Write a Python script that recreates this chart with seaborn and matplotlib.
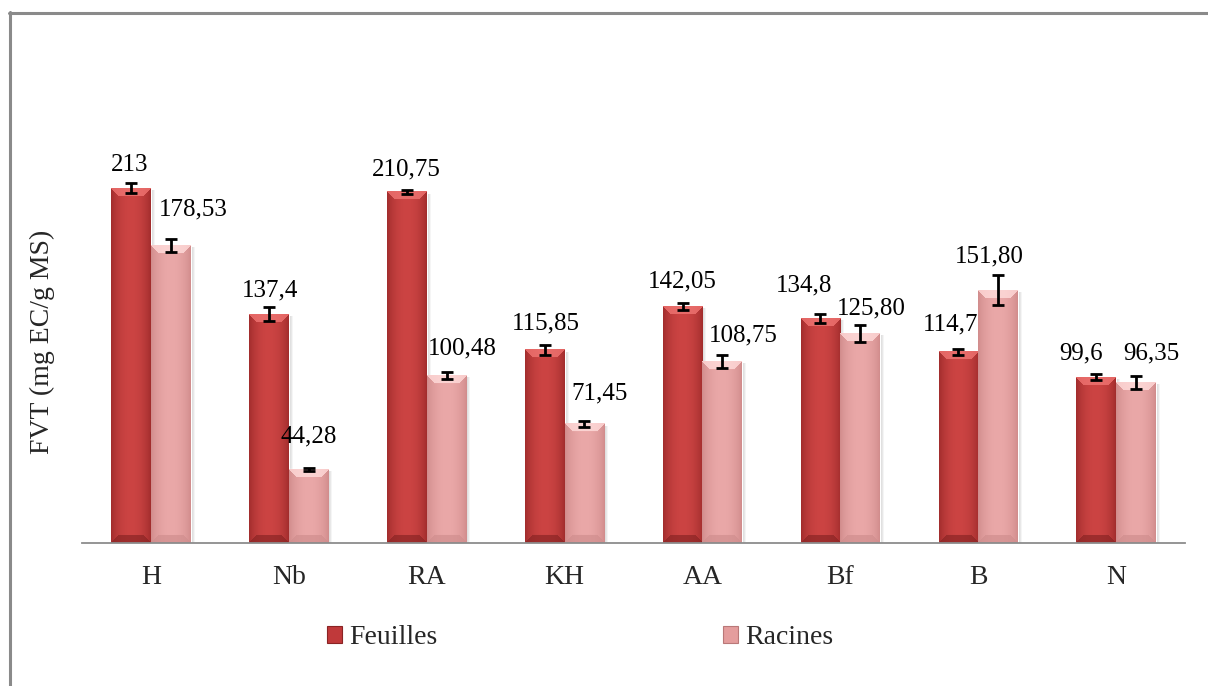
import numpy as np
import pandas as pd
import matplotlib
matplotlib.use("Agg")
import matplotlib.pyplot as plt
import seaborn as sns
from matplotlib.patches import Patch
from matplotlib.lines import Line2D
from matplotlib.colors import to_rgb

# ---- data -------------------------------------------------------------
categories = ["H", "Nb", "RA", "KH", "AA", "Bf", "B", "N"]
feuilles = [213, 137.4, 210.75, 115.85, 142.05, 134.8, 114.7, 99.6]
racines = [178.53, 44.28, 100.48, 71.45, 108.75, 125.80, 151.80, 96.35]
feuilles_err = [3, 4, 1.2, 3, 2, 2.5, 2, 1.6]
racines_err = [4, 0.8, 2, 1.7, 4, 5, 9.2, 3.7]
feuilles_txt = ["213", "137,4", "210,75", "115,85", "142,05", "134,8", "114,7", "99,6"]
racines_txt = ["178,53", "44,28", "100,48", "71,45", "108,75", "125,80", "151,80", "96,35"]
series = ["Feuilles", "Racines"]

df = pd.DataFrame({
    "cat": categories * 2,
    "organ": [series[0]] * len(categories) + [series[1]] * len(categories),
    "fvt": feuilles + racines,
})

# ---- style ------------------------------------------------------------
sns.set_style("white")
plt.rcParams["font.family"] = ["Liberation Serif", "DejaVu Serif"]

red_main = "#c0393a"
pink_main = "#e49d9d"
shades = {
    series[0]: dict(light="#cc4443", dark="#9e2b2b", top="#e86c6a", bottom="#8a2424"),
    series[1]: dict(light="#eaa8a8", dark="#cf8a8a", top="#fbd3d2", bottom="#d08e8e"),
}

W_PX, H_PX = 1208, 686
fig = plt.figure(figsize=(W_PX / 100, H_PX / 100), dpi=100)
ax_left, ax_right, ax_bottom, ax_top = 82, 1185, 543, 126.5
ax = fig.add_axes([ax_left / W_PX, 1 - ax_bottom / H_PX,
                   (ax_right - ax_left) / W_PX, (ax_bottom - ax_top) / H_PX])

sns.barplot(data=df, x="cat", y="fvt", hue="organ", hue_order=series,
            palette=[red_main, pink_main], width=0.575, gap=0,
            saturation=1, errorbar=None, legend=False, ax=ax, zorder=2)

ax.set_xlim(-0.5, len(categories) - 0.5)
ax.set_ylim(0, 250)
fig.canvas.draw()


def bevel_image(w, h, sh):
    """Pixel image of a bevelled bar: lit centre, dark sides, light top facet."""
    light, dark = np.array(to_rgb(sh["light"])), np.array(to_rgb(sh["dark"]))
    top, bottom = np.array(to_rgb(sh["top"])), np.array(to_rgb(sh["bottom"]))
    xs = (np.arange(w) + 0.5) / w
    prof = np.sin(np.pi * xs) ** 0.7
    row = dark[None, :] + (light - dark)[None, :] * prof[:, None]
    img = np.repeat(row[None, :, :], h, axis=0)
    b = 8
    for i in range(min(b, h)):
        for j in range(w):
            if i <= j <= w - 1 - i:
                k = 0.75 + 0.25 * prof[j]
                img[i, j] = top * k + light * (1 - k)
                if h - 1 - i > b:
                    img[h - 1 - i, j] = bottom * 0.7 + img[h - 1 - i, j] * 0.3
    return np.clip(img, 0, 1)


for cont, organ in zip(ax.containers, series):
    for p in cont.patches:
        x0, w, h = p.get_x(), p.get_width(), p.get_height()
        (px0, py0) = ax.transData.transform((x0, 0))
        (px1, py1) = ax.transData.transform((x0 + w, h))
        wp, hp = max(int(round(px1 - px0)), 2), max(int(round(py1 - py0)), 2)
        img = bevel_image(wp, hp, shades[organ])
        ax.imshow(img, extent=[x0, x0 + w, 0, h], origin="upper",
                  aspect="auto", interpolation="bilinear", zorder=2.5)
        # soft drop shadow on the right side
        for s, a in zip(range(1, 5), [0.22, 0.15, 0.09, 0.04]):
            dxd = ax.transData.inverted().transform((px1 + s, 0))[0] - \
                ax.transData.inverted().transform((px1 + s - 1, 0))[0]
            ax.axvspan(x0 + w + dxd * (s - 1), x0 + w + dxd * s, ymin=0,
                       ymax=h / 250 - 0.004, color="#000000", alpha=a,
                       lw=0, zorder=1.5)

ax.set_xlim(-0.5, len(categories) - 0.5)
ax.set_ylim(0, 250)

# error bars from the bar centres
centers_f = [p.get_x() + p.get_width() / 2 for p in ax.containers[0].patches]
centers_r = [p.get_x() + p.get_width() / 2 for p in ax.containers[1].patches]
for xc, vals, errs in [(centers_f, feuilles, feuilles_err),
                       (centers_r, racines, racines_err)]:
    ax.errorbar(xc, vals, yerr=errs, fmt="none", ecolor="black",
                elinewidth=2.0, capsize=4.3, capthick=2.0, zorder=4)

# value labels (pixel nudges keep neighbouring labels apart)
nudge_f = [(-1, 26), (1, 27), (-1, 25), (1, 30), (0, 28), (-16, 36), (-8, 30), (-15, 27)]
nudge_r = [(23, 39), (0, 36), (16, 30), (15, 34), (21, 29), (11, 28), (-9, 37), (15, 32)]
for xc, vals, txts, nudges in [(centers_f, feuilles, feuilles_txt, nudge_f),
                               (centers_r, racines, racines_txt, nudge_r)]:
    for x, v, t, (dx, dy) in zip(xc, vals, txts, nudges):
        ax.annotate(t, xy=(x, v), xytext=(dx, dy - 9), textcoords="offset pixels",
                    ha="center", va="baseline", fontsize=18, color="black",
                    zorder=5)

# axes decoration
for side in ["top", "right", "left"]:
    ax.spines[side].set_visible(False)
ax.spines["bottom"].set_color("#8c8c8c")
ax.spines["bottom"].set_linewidth(1.3)
ax.set_yticks([])
ax.set_xticks(range(len(categories)))
ax.set_xticklabels(categories, fontsize=20)
ax.set_xticks(np.arange(-0.5, len(categories)), minor=True)
ax.tick_params(axis="x", which="major", length=0, pad=16)
ax.tick_params(axis="x", which="minor", length=5, width=1.3, color="#8c8c8c",
               direction="out")
ax.set_xlabel("")
ax.set_ylabel("")
ax.patch.set_alpha(0)

fig.text(42 / W_PX, 1 - 342 / H_PX, "FVT (mg EC/g MS)", rotation=90,
         ha="center", va="center", fontsize=20)

handles = [Patch(facecolor=red_main, edgecolor="#8a2424", lw=0.8),
           Patch(facecolor=pink_main, edgecolor="#b97878", lw=0.8)]
fig.legend(handles, series, loc="center", bbox_to_anchor=(580 / W_PX, 1 - 638 / H_PX),
           ncol=2, frameon=False, fontsize=20, handlelength=0.55,
           handleheight=0.55, handletextpad=0.25, columnspacing=10.3,
           borderpad=0)

# outer frame (top and left edges)
border = "#8a8a8a"
fig.add_artist(Line2D([8.5 / W_PX, 1], [1 - 12.5 / H_PX] * 2,
                      transform=fig.transFigure, color=border, lw=2.2))
fig.add_artist(Line2D([10 / W_PX] * 2, [0, 1 - 11.5 / H_PX],
                      transform=fig.transFigure, color=border, lw=2.2))

fig.savefig("out.png", dpi=100, facecolor="white")
